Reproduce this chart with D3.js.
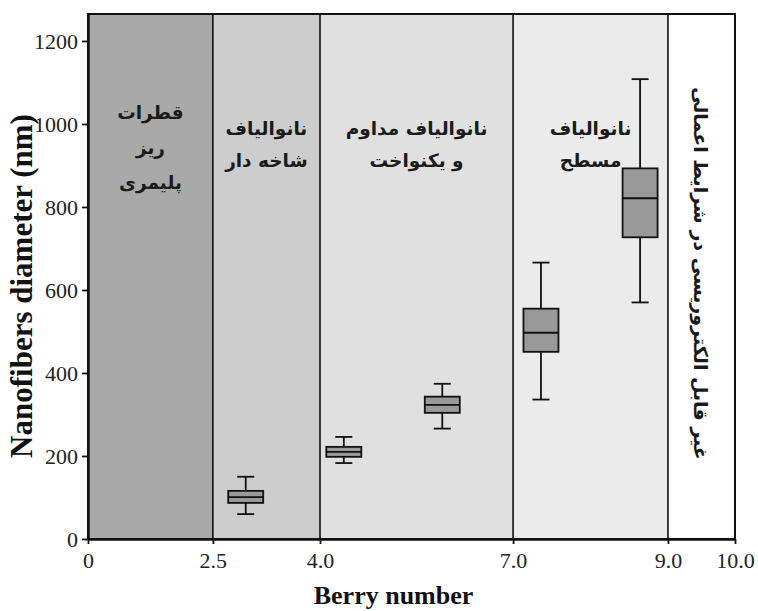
<!DOCTYPE html>
<html>
<head>
<meta charset="utf-8">
<script src="https://cdn.jsdelivr.net/npm/d3@7"></script>
<style>
  body { margin: 0; background: #fff; }
  svg { display: block; }
</style>
</head>
<body>
<svg></svg>
<script>
// region boundaries on the (non-uniform) berry number axis
const regionBounds = [0, 2.5, 4.0, 7.0, 9.0, 10.0];
const xTickLabels = ["0", "2.5", "4.0", "7.0", "9.0", "10.0"];
const regionFills = ["#a9a9a9", "#cdcdcd", "#e0e0e0", "#ebebeb", "#ffffff"];
const regionLabels = [
    ["قطرات", "ریز", "پلیمری"],
    ["نانوالیاف", "شاخه دار"],
    ["نانوالیاف مداوم", "و یکنواخت"],
    ["نانوالیاف", "مسطح"]
];
const lastRegionLabel = "غیر قابل الکتروریسی در شرایط اعمالی";

// box plots
const berry = [2.96, 4.37, 5.90, 7.36, 8.64];
const whiskerLow = [60, 183, 266, 336, 570];
const q1 = [87, 198, 304, 451, 727];
const median = [101, 210, 323, 497, 821];
const q3 = [116, 222, 343, 555, 893];
const whiskerHigh = [150, 246, 374, 666, 1108];

const yTicks = [0, 200, 400, 600, 800, 1000, 1200];

const width = 758, height = 611;
const margin = { top: 14, right: 23, bottom: 72, left: 88 };
const innerW = width - margin.left - margin.right;
const innerH = height - margin.top - margin.bottom;

const serif = "'Liberation Serif', 'Times New Roman', serif";
const persian = "'DejaVu Sans', sans-serif";

const svg = d3.select("svg")
    .attr("width", width)
    .attr("height", height);

// piecewise axis: each region gets its own share of the width
const xShares = [0, 0.193, 0.3586, 0.657, 0.8964, 1];
const x = d3.scaleLinear()
    .domain(regionBounds)
    .range(xShares.map(s => margin.left + s * innerW));

const y = d3.scaleLinear()
    .domain([0, 1265])
    .range([margin.top + innerH, margin.top]);

// shaded regions
const regions = d3.pairs(regionBounds);
svg.append("g").selectAll("rect")
    .data(regions)
    .join("rect")
    .attr("x", d => x(d[0]))
    .attr("width", d => x(d[1]) - x(d[0]))
    .attr("y", margin.top)
    .attr("height", innerH)
    .attr("fill", (d, i) => regionFills[i]);

// dividers
svg.append("g").selectAll("line")
    .data(regionBounds.slice(1, -1))
    .join("line")
    .attr("x1", d => x(d)).attr("x2", d => x(d))
    .attr("y1", margin.top).attr("y2", margin.top + innerH)
    .attr("stroke", "#111").attr("stroke-width", 1.6);

// region labels
const labelBaselines = [[119, 154, 189], [135, 167], [135, 167], [135, 167]];
regionLabels.forEach((lines, i) => {
    const cx = (x(regionBounds[i]) + x(regionBounds[i + 1])) / 2;
    svg.append("text")
        .attr("text-anchor", "middle")
        .attr("direction", "rtl")
        .attr("font-family", persian)
        .attr("font-weight", "bold")
        .attr("font-size", 18.5)
        .attr("fill", "#1a1a1a")
        .selectAll("tspan")
        .data(lines)
        .join("tspan")
        .attr("x", cx)
        .attr("y", (d, j) => labelBaselines[i][j])
        .text(d => d);
});

svg.append("text")
    .attr("transform", `translate(${(x(9) + x(10)) / 2},${y(640)}) rotate(90)`)
    .attr("text-anchor", "middle")
    .attr("dominant-baseline", "central")
    .attr("direction", "rtl")
    .attr("font-family", persian)
    .attr("font-weight", "bold")
    .attr("font-size", 19)
    .attr("fill", "#1a1a1a")
    .text(lastRegionLabel);

// box plots
const boxW = 35, capW = 17;
const boxes = berry.map((b, i) => ({
    b, lo: whiskerLow[i], q1: q1[i], med: median[i], q3: q3[i], hi: whiskerHigh[i]
}));
const bg = svg.append("g").selectAll("g")
    .data(boxes)
    .join("g")
    .attr("stroke", "#111")
    .attr("stroke-width", 1.8);

bg.append("line")
    .attr("x1", d => x(d.b)).attr("x2", d => x(d.b))
    .attr("y1", d => y(d.lo)).attr("y2", d => y(d.hi));
bg.append("line")
    .attr("x1", d => x(d.b) - capW / 2).attr("x2", d => x(d.b) + capW / 2)
    .attr("y1", d => y(d.hi)).attr("y2", d => y(d.hi));
bg.append("line")
    .attr("x1", d => x(d.b) - capW / 2).attr("x2", d => x(d.b) + capW / 2)
    .attr("y1", d => y(d.lo)).attr("y2", d => y(d.lo));
bg.append("rect")
    .attr("x", d => x(d.b) - boxW / 2)
    .attr("width", boxW)
    .attr("y", d => y(d.q3))
    .attr("height", d => y(d.q1) - y(d.q3))
    .attr("fill", "#999999");
bg.append("line")
    .attr("x1", d => x(d.b) - boxW / 2).attr("x2", d => x(d.b) + boxW / 2)
    .attr("y1", d => y(d.med)).attr("y2", d => y(d.med));

// frame
svg.append("rect")
    .attr("x", margin.left).attr("y", margin.top)
    .attr("width", innerW).attr("height", innerH)
    .attr("fill", "none").attr("stroke", "#111").attr("stroke-width", 2);

// axes
const xAxis = svg.append("g")
    .attr("transform", `translate(0,${margin.top + innerH})`)
    .call(d3.axisBottom(x).tickValues(regionBounds)
        .tickFormat((d, i) => xTickLabels[i]).tickSize(5).tickSizeOuter(0));
const yAxis = svg.append("g")
    .attr("transform", `translate(${margin.left},0)`)
    .call(d3.axisLeft(y).tickValues(yTicks).tickFormat(d3.format("d"))
        .tickSize(6).tickSizeOuter(0));

[xAxis, yAxis].forEach(a => {
    a.attr("font-family", serif).attr("font-size", 22);
    a.select(".domain").attr("stroke", "#111").attr("stroke-width", 2.5);
    a.selectAll(".tick line").attr("stroke", "#111").attr("stroke-width", 1.8);
    a.selectAll(".tick text").attr("fill", "#222");
});
xAxis.selectAll(".tick text").attr("dy", "0.95em");
yAxis.selectAll(".tick text").attr("dx", "-0.05em");

svg.append("text")
    .attr("x", (margin.left + width - margin.right) / 2 - 18)
    .attr("y", 604)
    .attr("text-anchor", "middle")
    .attr("font-family", serif)
    .attr("font-weight", "bold")
    .attr("font-size", 26)
    .attr("fill", "#111")
    .text("Berry number");

svg.append("text")
    .attr("transform", `translate(32,286) rotate(-90)`)
    .attr("text-anchor", "middle")
    .attr("font-family", serif)
    .attr("font-weight", "bold")
    .attr("font-size", 31)
    .attr("fill", "#111")
    .text("Nanofibers diameter (nm)");
</script>
</body>
</html>
